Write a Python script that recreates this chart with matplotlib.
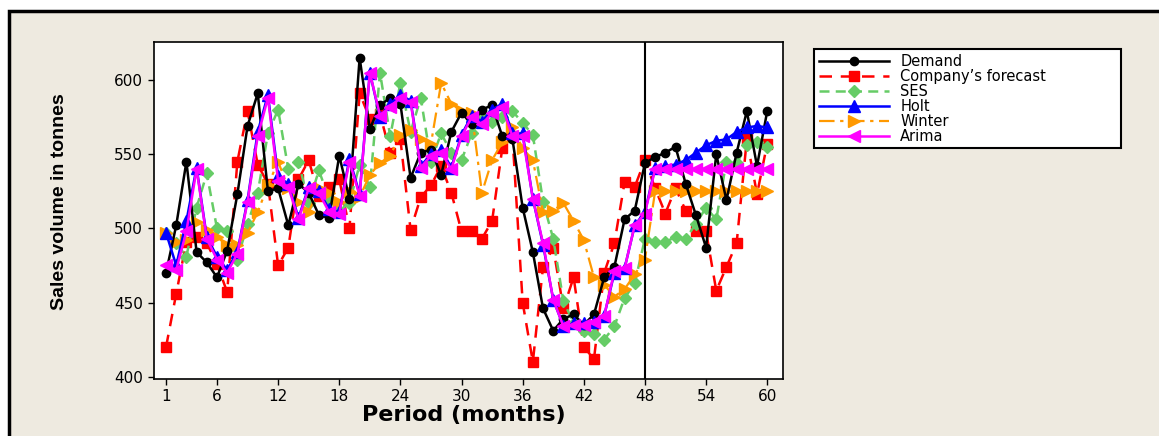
import matplotlib
matplotlib.use("Agg")
import matplotlib.pyplot as plt
from matplotlib.patches import Rectangle

# data
period = list(range(1, 61))
xticks = [1, 6, 12, 18, 24, 30, 36, 42, 48, 54, 60]
yticks = [400, 450, 500, 550, 600]

demand = [470, 502, 545, 484, 477, 467, 485, 523, 569, 591,
          525, 527, 502, 530, 524, 509, 507, 549, 520, 615,
          567, 583, 588, 584, 534, 551, 553, 536, 565, 578,
          570, 580, 583, 562, 560, 514, 484, 446, 431, 439,
          442, 435, 442, 467, 474, 506, 512, 544, 548, 551,
          555, 530, 509, 487, 550, 519, 551, 579, 542, 579]
company = [420, 456, 491, 494, 490, 476, 457, 545, 579, 543,
           530, 475, 487, 533, 546, 522, 528, 533, 500, 591,
           574, 577, 551, 560, 499, 521, 529, 542, 524, 498,
           498, 493, 505, 554, 562, 450, 410, 474, 487, 446,
           467, 420, 412, 470, 490, 531, 528, 546, 527, 510,
           527, 512, 498, 498, 458, 474, 490, 560, 523, 557]
ses = [497, 490, 481, 514, 537, 500, 498, 479, 503, 524,
       564, 580, 540, 545, 517, 539, 520, 512, 517, 543,
       528, 605, 562, 598, 565, 588, 545, 564, 551, 546,
       564, 575, 572, 575, 579, 571, 563, 518, 493, 451,
       436, 431, 429, 425, 434, 453, 463, 493, 491, 491,
       494, 493, 503, 514, 506, 545, 544, 556, 558, 555]
holt = [497, 475, 505, 541, 494, 481, 472, 484, 519, 565,
        590, 535, 530, 507, 528, 525, 513, 511, 547, 523,
        605, 575, 584, 590, 586, 542, 550, 553, 541, 563,
        576, 572, 580, 584, 564, 564, 520, 489, 452, 434,
        436, 436, 437, 441, 470, 473, 502, 511, 541, 542,
        543, 546, 551, 556, 559, 560, 565, 568, 569, 568]
winter = [497, 491, 492, 504, 499, 494, 489, 489, 497, 511,
          529, 545, 527, 518, 511, 527, 524, 518, 525, 521,
          536, 544, 549, 563, 566, 560, 557, 598, 584, 579,
          578, 524, 546, 558, 568, 554, 546, 511, 512, 517,
          505, 492, 467, 462, 454, 459, 469, 479, 525, 525,
          525, 525, 525, 525, 525, 525, 525, 525, 525, 525]
arima = [475, 472, 498, 540, 493, 479, 470, 483, 518, 562,
         588, 532, 528, 506, 527, 524, 511, 510, 545, 522,
         605, 576, 582, 588, 585, 541, 549, 551, 540, 562,
         575, 570, 578, 582, 562, 562, 520, 490, 452, 434,
         435, 435, 437, 441, 471, 473, 502, 510, 540, 540,
         540, 540, 540, 540, 540, 540, 540, 540, 540, 540]

W, H = 1159, 436
fig = plt.figure(figsize=(W / 100, H / 100), dpi=100)
fig.patch.set_facecolor("white")
# beige panel with black frame, behind the axes
fig.patches.append(Rectangle((9 / W, -0.05), 1.2, 1 - 11 / H + 0.05,
                             transform=fig.transFigure, facecolor="#EEEAE0",
                             edgecolor="black", lw=2.5, zorder=-5))

ax = fig.add_axes([153.5 / W, 1 - 378.5 / H, (783 - 153.5) / W, (378.5 - 41.7) / H])

l_c, = ax.plot(period, company, color="#FF0000", lw=1.8, dashes=(5, 3.5),
               marker="s", ms=6.5, zorder=2)
l_s, = ax.plot(period, ses, color="#66CC66", lw=1.8, dashes=(4, 2.5),
               marker="D", ms=6, zorder=3)
l_w, = ax.plot(period, winter, color="#FF9900", lw=1.6, dashes=(7, 2.5, 1.5, 2.5),
               marker=">", ms=8.5, zorder=4)
l_d, = ax.plot(period, demand, color="black", lw=1.8, marker="o", ms=6, zorder=5)
l_h, = ax.plot(period, holt, color="#0000FF", lw=1.8, marker="^", ms=8, zorder=6)
l_a, = ax.plot(period, arima, color="#FF00FF", lw=1.8, marker="<", ms=8.5, zorder=7)

ax.axvline(48, color="black", lw=1.5, zorder=8)

ax.set_xlim(-0.23, 61.55)
ax.set_ylim(398.8, 625.8)
ax.set_xticks(xticks)
ax.set_yticks(yticks)
ax.tick_params(direction="out", length=4, width=1, labelsize=11, colors="black")
for s in ax.spines.values():
    s.set_linewidth(1.2)

ax.set_ylabel("Sales volume in tonnes", fontsize=14, fontweight="bold",
              family=["Liberation Sans", "DejaVu Sans"])
ax.yaxis.set_label_coords(-0.136, 0.526)
ax.set_xlabel("Period (months)", fontsize=16, fontweight="bold")
ax.xaxis.set_label_coords(0.493, -0.079)

leg = ax.legend([l_d, l_c, l_s, l_h, l_w, l_a],
                ["Demand", "Company\u2019s forecast", "SES", "Holt", "Winter", "Arima"],
                loc="upper left", bbox_to_anchor=(807 / W, 1 - 140 / H, (1128 - 807) / W, 98 / H),
                bbox_transform=fig.transFigure, mode="expand", fontsize=10.5,
                labelspacing=0.0, handlelength=4.8, handletextpad=0.8,
                borderpad=0.3, fancybox=False, framealpha=1, edgecolor="black")
leg.get_frame().set_linewidth(1.5)

fig.savefig("out.png", dpi=100, facecolor=fig.get_facecolor())
